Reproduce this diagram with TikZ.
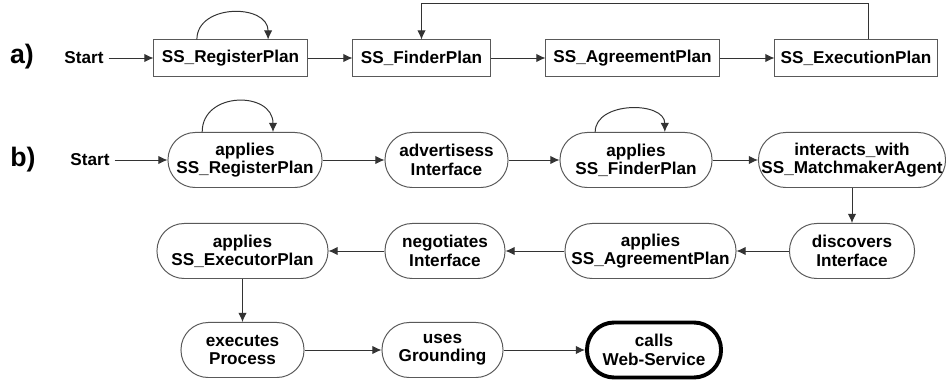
\documentclass[tikz,border=0pt]{standalone}
\usepackage{fontspec}
\setmainfont{Liberation Sans}
\usepackage{tikz}
\usetikzlibrary{positioning, arrows.meta, calc}
\newcommand{\planfont}{\fontsize{12.2}{13}\selectfont\bfseries}

\begin{document}
\begin{tikzpicture}[x=0.025cm, y=-0.025cm,
    plan/.style={draw=black!65, line width=0.7pt, minimum height=0.9cm, inner sep=1pt, font=\planfont},
    act/.style={draw=black!65, line width=0.7pt, rounded corners=0.68cm, minimum height=1.375cm, inner sep=1pt, align=center, font=\planfont},
    arrow/.style={->, >={Latex[length=6.5pt,width=6pt]}, line width=0.7pt, black!80},
    lbl/.style={font=\fontsize{19}{19}\selectfont\bfseries},
]
\useasboundingbox (0,0) rectangle (946,385);

% a) plans
\node[lbl] (labela) at (22,57) {a)};
\node[font=\planfont] (starta) at (84,58) {Start};
\node[plan, minimum width=3.825cm] (registera) at (230.5,58) {SS\_RegisterPlan};
\node[plan, minimum width=3.425cm] (finder) at (421.5,58) {SS\_FinderPlan};
\node[plan, minimum width=4.325cm] (agreement) at (632.5,58) {SS\_AgreementPlan};
\node[plan, minimum width=4.05cm] (execution) at (856,58) {SS\_ExecutionPlan};

\draw[arrow] (starta) -- (registera);
\draw[arrow] (registera) -- (finder);
\draw[arrow] (finder) -- (agreement);
\draw[arrow] (agreement) -- (execution);
\draw[arrow] ([xshift=-0.84cm]registera.north) .. controls +(0,-36) and +(0,-36) .. ([xshift=0.94cm]registera.north);
\draw[arrow] ([xshift=0.3cm]execution.north) -- ++(0,0.9cm) -| (finder.north);

% b) activities
\node[lbl] (labelb) at (23,160) {b)};
\node[font=\planfont] (startb) at (90,160) {Start};
\node[act, minimum width=3.85cm] (applyreg) at (245,160) {applies\\SS\_RegisterPlan};
\node[act, minimum width=3.075cm] (advert) at (446.5,160) {advertisess\\Interface};
\node[act, minimum width=3.8cm] (applyfind) at (636,160) {applies\\SS\_FinderPlan};
\node[act, minimum width=4.675cm] (interact) at (852,160) {interacts\_with\\SS\_MatchmakerAgent};

\node[act, minimum width=4.275cm] (applyexec) at (242.5,251) {applies\\SS\_ExecutorPlan};
\node[act, minimum width=3.0cm] (negotiate) at (445,251) {negotiates\\Interface};
\node[act, minimum width=4.275cm] (applyagree) at (650.5,251) {applies\\SS\_AgreementPlan};
\node[act, minimum width=3.125cm] (discover) at (852,251) {discovers\\Interface};

\node[act, minimum width=3.075cm] (execute) at (242.5,350) {executes\\Process};
\node[act, minimum width=3.025cm] (uses) at (442.5,350) {uses\\Grounding};
\node[act, minimum width=3.35cm, draw=black, line width=2.8pt] (calls) at (654,350) {calls\\Web-Service};

% Connections
\draw[arrow] (startb) -- (applyreg);
\draw[arrow] (applyreg) -- (advert);
\draw[arrow] (advert) -- (applyfind);
\draw[arrow] (applyfind) -- (interact);
\draw[arrow] (interact) -- (discover);
\draw[arrow] (discover) -- (applyagree);
\draw[arrow] (applyagree) -- (negotiate);
\draw[arrow] (negotiate) -- (applyexec);
\draw[arrow] (applyexec) -- (execute);
\draw[arrow] (execute) -- (uses);
\draw[arrow] (uses) -- (calls);

% Loops
\draw[arrow] ([xshift=-1.07cm]applyreg.north) .. controls +(0,-41) and +(0,-41) .. ([xshift=0.7cm]applyreg.north);
\draw[arrow] ([xshift=-1.02cm]applyfind.north) .. controls +(0,-31) and +(0,-31) .. ([xshift=0.72cm]applyfind.north);

\end{tikzpicture}
\end{document}
